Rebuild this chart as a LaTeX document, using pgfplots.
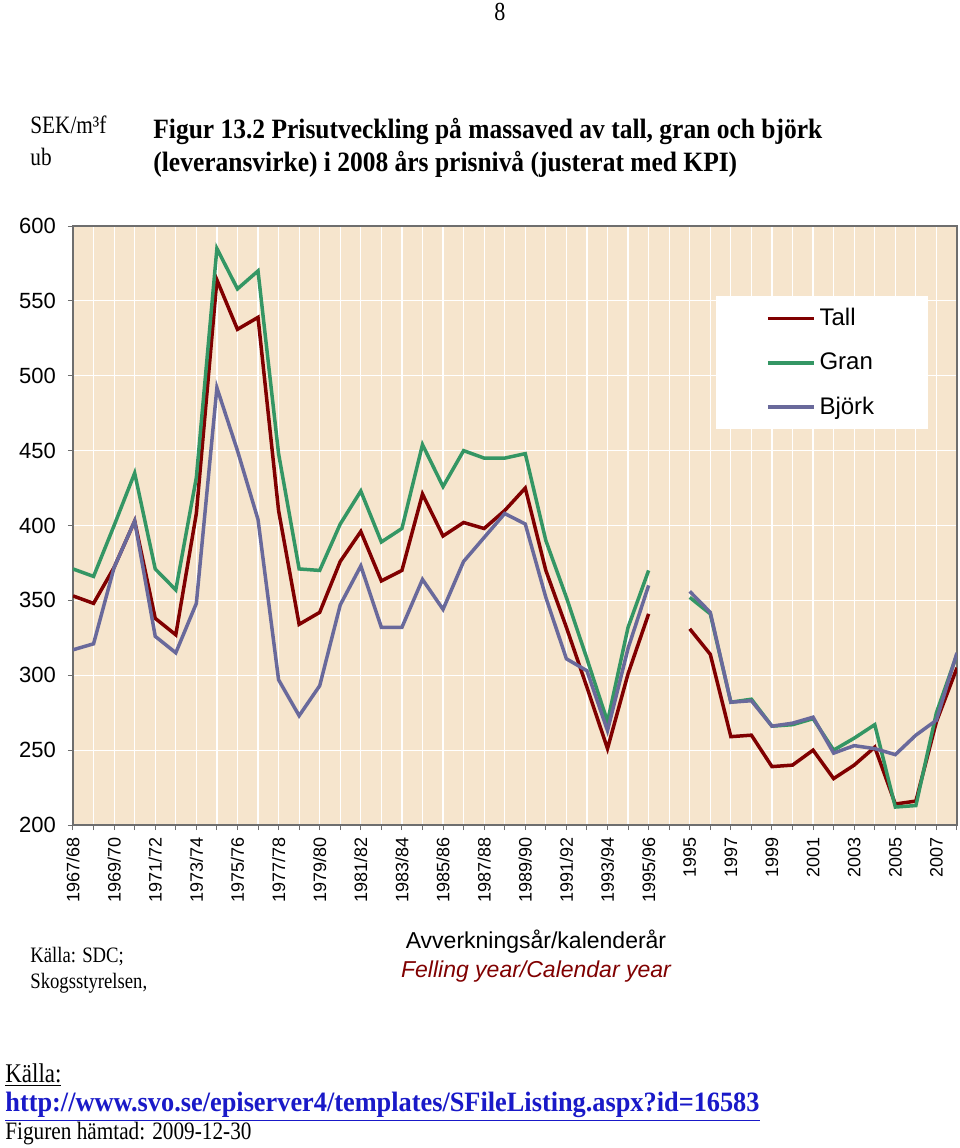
\documentclass[border=0pt]{standalone}
\usepackage{fontspec}
\setmainfont{Liberation Serif}
\newfontfamily\arial{Liberation Sans}
\newfontfamily\cserif[FakeStretch=0.85]{Liberation Serif}
\newfontfamily\tserif[FakeStretch=0.91]{Liberation Serif}
\newfontfamily\userif[FakeStretch=0.94]{Liberation Serif}
\usepackage{pgfplots}
\pgfplotsset{compat=1.18}
\usepackage{pgfplotstable}
\definecolor{tall}{RGB}{128,0,0}
\definecolor{gran}{RGB}{52,150,100}
\definecolor{bjork}{RGB}{105,105,155}
\definecolor{bgc}{RGB}{246,229,205}
\definecolor{linkc}{RGB}{25,25,200}
\definecolor{axc}{RGB}{110,110,110}

\pgfplotstableread{
i tall gran bjork
0 353 371 317
1 348 366 321
2 372 400 372
3 403 435 403
4 338 371 326
5 327 357 315
6 408 432 348
7 564 585 492
8 531 558 450
9 539 570 404
10 410 448 297
11 334 371 273
12 342 370 293
13 376 401 347
14 396 423 373
15 363 389 332
16 370 398 332
17 421 454 364
18 393 426 344
19 402 450 376
20 398 445 392
21 410 445 408
22 425 448 401
23 370 390 352
24 332 352 311
25 292 311 303
26 251 269 263
27 301 332 318
28 341 370 360
29 nan nan nan
30 331 352 356
31 314 341 342
32 259 282 282
33 260 284 283
34 239 266 266
35 240 267 268
36 250 271 272
37 231 250 248
38 240 258 253
39 252 267 251
40 214 212 247
41 216 213 260
42 269 275 270
43 305 314 315
}\data

\begin{document}
\begin{tikzpicture}
\path[fill=white, use as bounding box] (0,0) rectangle (480pt,-574pt);
\begin{axis}[
  at={(36.5pt,-412.5pt)}, anchor=south west,
  width=442pt, height=299.5pt, scale only axis,
  xmin=0, xmax=43, ymin=200, ymax=600,
  axis background/.style={fill=bgc},
  xtick={0,...,43},
  xticklabels={1967/68,,1969/70,,1971/72,,1973/74,,1975/76,,1977/78,,1979/80,,1981/82,,1983/84,,1985/86,,1987/88,,1989/90,,1991/92,,1993/94,,1995/96,,1995,,1997,,1999,,2001,,2003,,2005,,2007,},
  ytick={200,250,...,600},
  xmajorgrids, ymajorgrids,
  major grid style={white, line width=0.6pt},
  axis line style={axc, line width=0.6pt},
  tick style={axc, line width=0.5pt},
  tick align=outside,
  xtick pos=lower, ytick pos=left,
  major tick length=2.5pt,
  /pgf/number format/assume math mode=true,
  yticklabel style={font=\arial\fontsize{11}{11}\selectfont, xshift=-2.5pt},
  xticklabel style={font=\arial\fontsize{9}{9}\selectfont, rotate=90, anchor=east},
  unbounded coords=jump,
  legend style={at={(0.727,0.883)}, anchor=north west, draw=none, fill=white,
    font=\arial\fontsize{12}{12}\selectfont, inner xsep=25pt, inner ysep=4pt,
    row sep=8pt, cells={anchor=west}},
  legend image code/.code={\draw[#1] (0pt,0pt) -- (23pt,0pt);},
]
\addplot[tall, line width=1.75pt] table[x=i, y=tall]{\data};
\addlegendentry{Tall}
\addplot[gran, line width=1.75pt] table[x=i, y=gran]{\data};
\addlegendentry{Gran}
\addplot[bjork, line width=1.75pt] table[x=i, y=bjork]{\data};
\addlegendentry{Björk}
\end{axis}
\node[inner sep=0] at (250pt,-6pt) {\cserif\fontsize{13}{13}\selectfont 8};
\node[inner sep=0, anchor=west] at (15pt,-62.5pt) {\cserif\fontsize{12.5}{12.5}\selectfont SEK/m³f};
\node[inner sep=0, anchor=west] at (15pt,-78.5pt) {\cserif\fontsize{12.5}{12.5}\selectfont ub};
\node[inner sep=0, anchor=west] at (76.5pt,-65.5pt) {\tserif\bfseries\fontsize{14}{14}\selectfont Figur 13.2 Prisutveckling på massaved av tall, gran och björk};
\node[inner sep=0, anchor=west] at (76.5pt,-82pt) {\tserif\bfseries\fontsize{14}{14}\selectfont (leveransvirke) i 2008 års prisnivå (justerat med KPI)};
\node[inner sep=0, anchor=west] at (15pt,-478.5pt) {\cserif\fontsize{11}{11}\selectfont Källa: SDC;};
\node[inner sep=0, anchor=west] at (15pt,-491.5pt) {\cserif\fontsize{11}{11}\selectfont Skogsstyrelsen,};
\node[inner sep=0] at (268pt,-471pt) {\arial\fontsize{11.5}{11.5}\selectfont Avverkningsår/kalenderår};
\node[inner sep=0, text=tall] at (268pt,-486pt) {\arial\itshape\fontsize{11.5}{11.5}\selectfont Felling year/Calendar year};
\node[inner sep=0, anchor=west] at (2.5pt,-537.5pt) {\cserif\fontsize{13.5}{13.5}\selectfont \underline{Källa:}};
\node[inner sep=0, anchor=west, text=linkc] at (2.5pt,-553.5pt) {\userif\bfseries\fontsize{14}{14}\selectfont \underline{http://www.svo.se/episerver4/templates/SFileListing.aspx?id=16583}};
\node[inner sep=0, anchor=west] at (2.5pt,-567pt) {\cserif\fontsize{12.5}{12.5}\selectfont Figuren hämtad: 2009-12-30};
\end{tikzpicture}
\end{document}
